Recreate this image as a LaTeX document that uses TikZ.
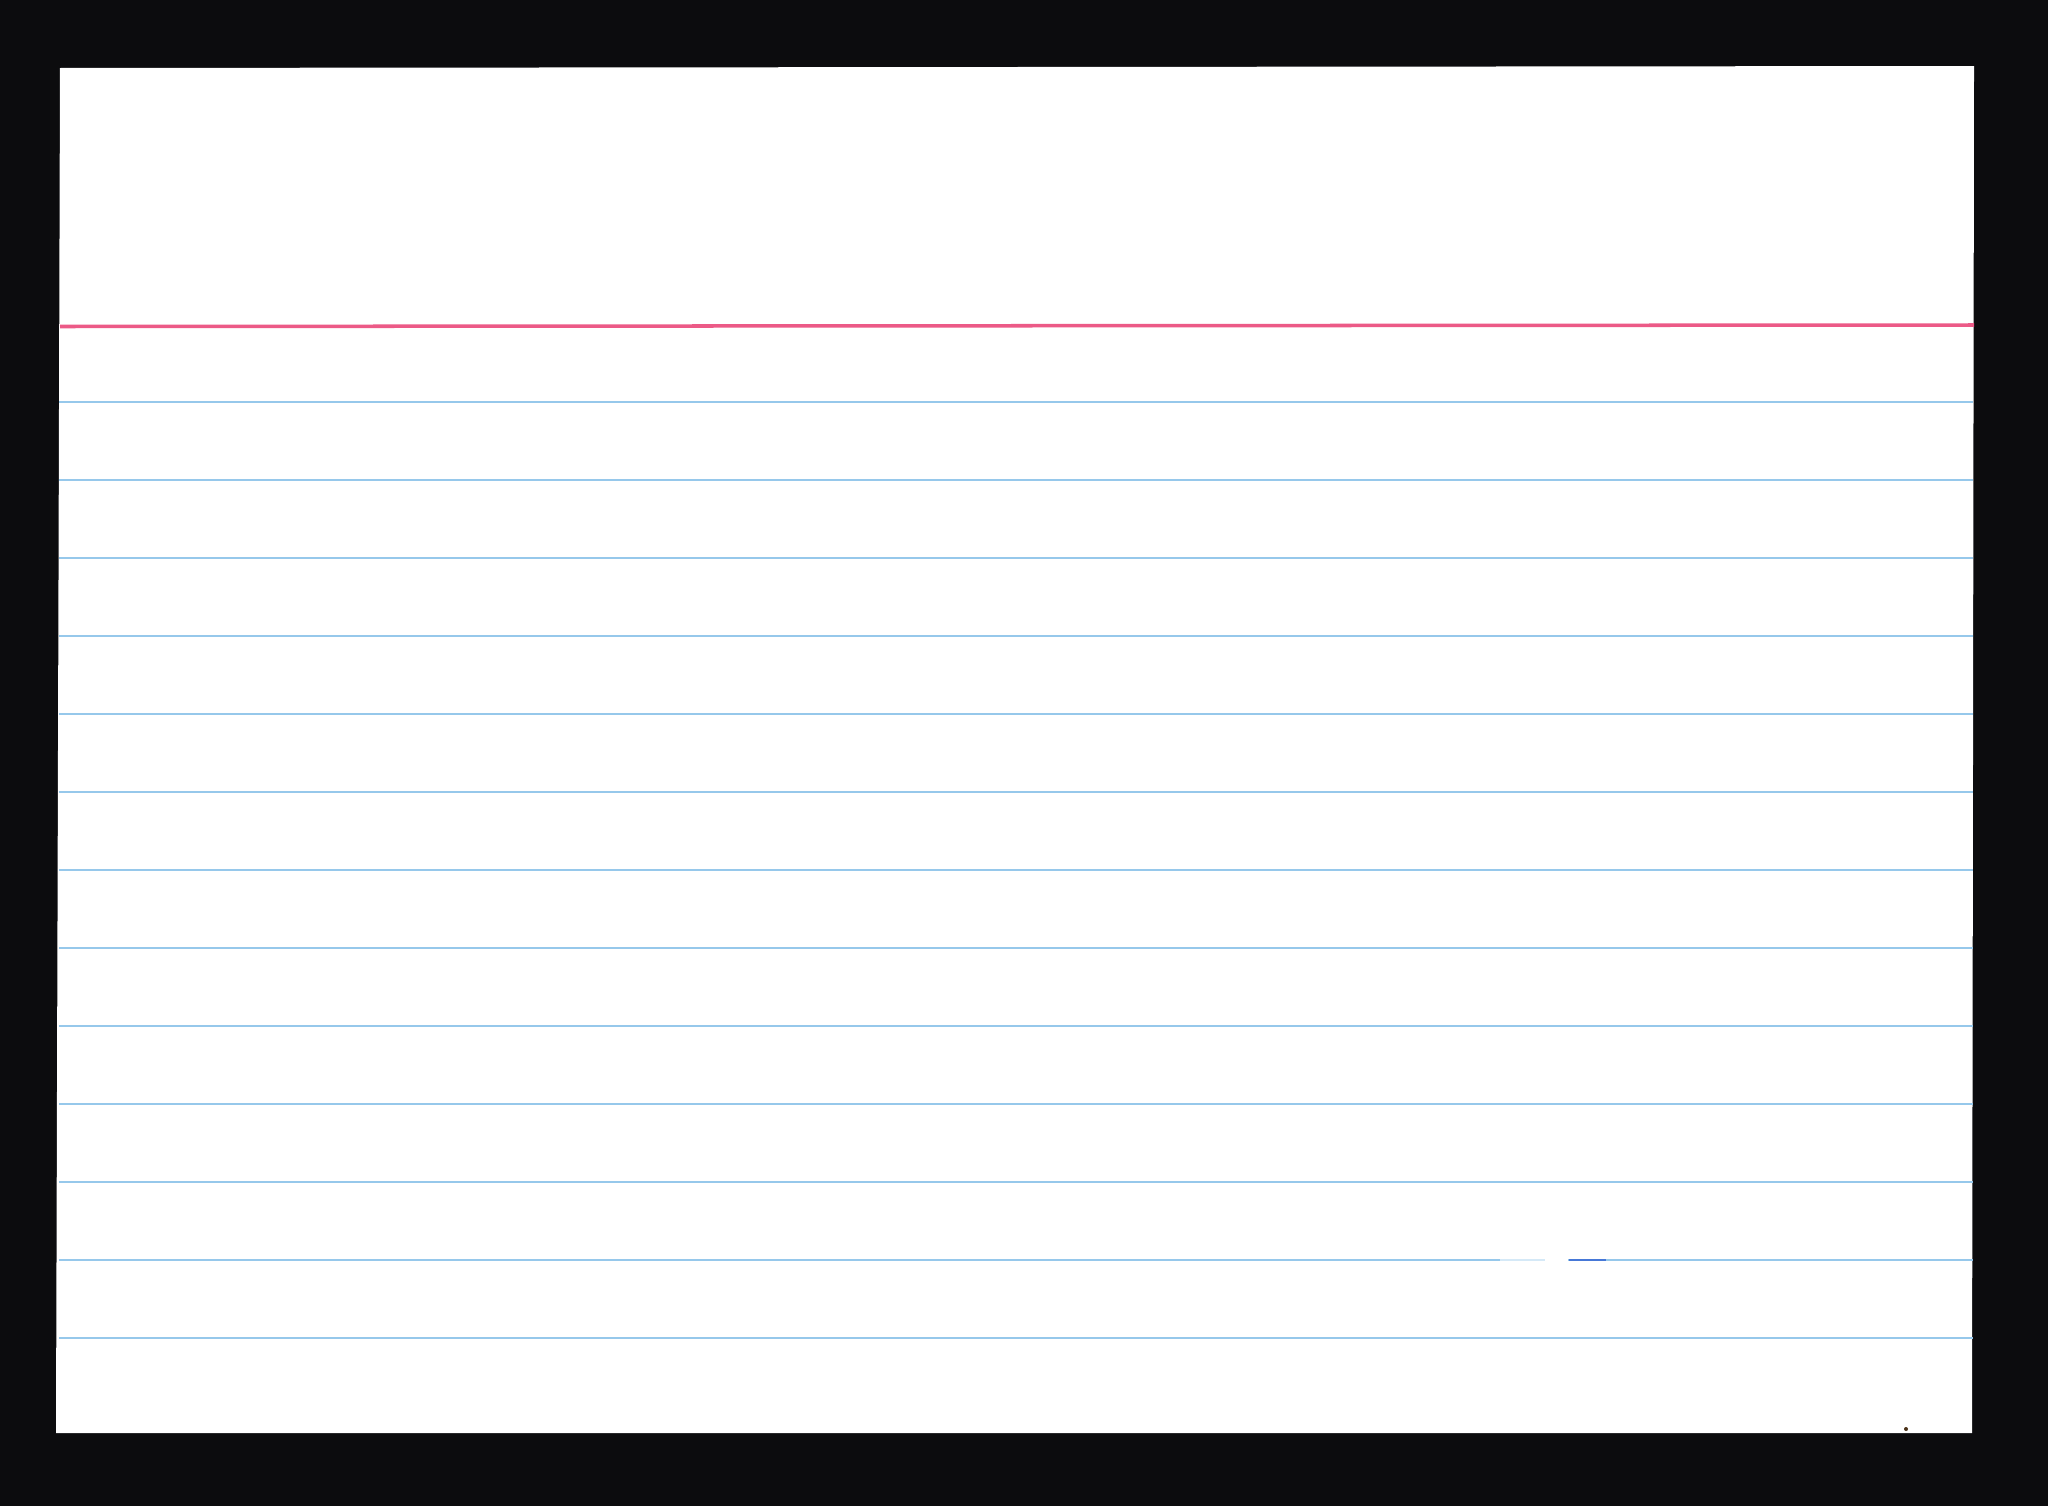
\documentclass[tikz,border=0pt]{standalone}
\begin{document}
\begin{tikzpicture}[x=0.01cm,y=-0.01cm,
  redrule/.style={draw=rulered,line width=1.0pt},
  bluerule/.style={draw=ruleblue,line width=0.4pt},
  ]
\definecolor{bg}{RGB}{12,12,14}
\definecolor{rulered}{RGB}{236,90,135}
\definecolor{ruleblue}{RGB}{150,200,235}
\definecolor{inkblue}{RGB}{70,120,215}
\fill[bg] (0,0) rectangle (2048,1506);
\useasboundingbox (0,0) rectangle (2048,1506);
\fill[white] (60,68) -- (1974,66) -- (1972,1433) -- (56,1433) -- cycle;
\draw[redrule] (60,326.5) -- (1974,325);
\foreach \k in {0,...,12}{
  \draw[bluerule] (59,{402+78*\k}) -- (1973,{402+78*\k});
}
\draw[draw=white,line width=0.6pt] (1500,1260) -- (1568,1260);
\draw[draw=ruleblue!40,line width=0.4pt] (1500,1260) -- (1545,1260);
\draw[draw=inkblue,line width=0.8pt] (1569,1260) -- (1606,1260);
\fill[black!60!brown] (1906,1429) circle (2);
\end{tikzpicture}
\end{document}
